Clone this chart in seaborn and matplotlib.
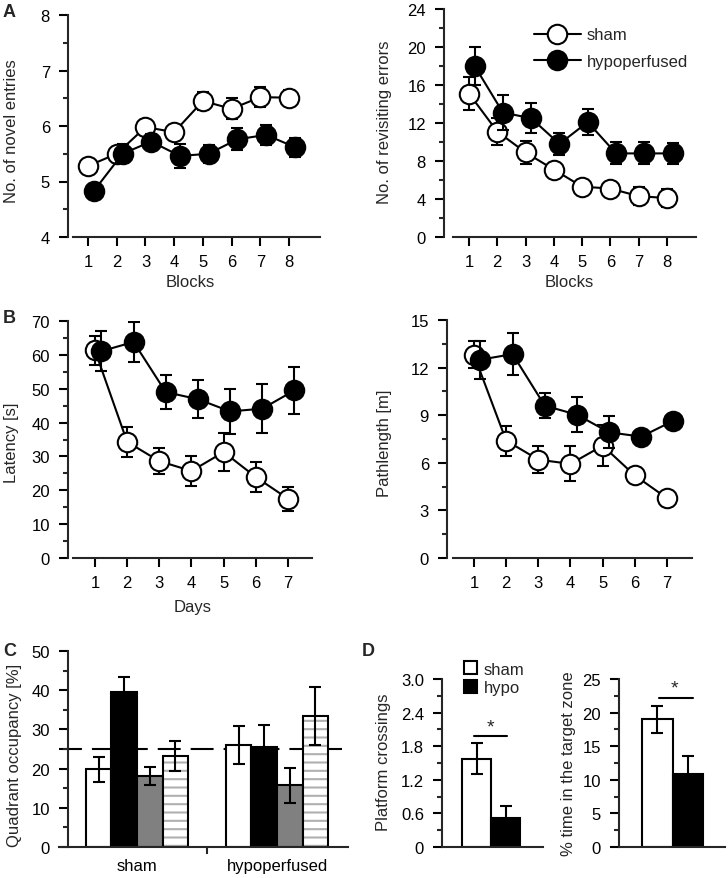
import matplotlib
matplotlib.use("Agg")
import matplotlib.pyplot as plt
from matplotlib.ticker import MultipleLocator, FuncFormatter
from matplotlib.lines import Line2D
from matplotlib.patches import Patch, Rectangle
import numpy as np
import pandas as pd
import seaborn as sns

# ---- data ----
blocks = [1, 2, 3, 4, 5, 6, 7, 8]
days = [1, 2, 3, 4, 5, 6, 7]

novel_sham = [5.28, 5.5, 5.98, 5.89, 6.45, 6.31, 6.52, 6.51]
novel_sham_err = [0.06, 0.12, 0.12, 0.1, 0.16, 0.19, 0.18, 0.14]
novel_hypo = [4.83, 5.5, 5.72, 5.46, 5.5, 5.76, 5.84, 5.62]
novel_hypo_err = [0.08, 0.17, 0.13, 0.22, 0.16, 0.2, 0.18, 0.17]

revisit_sham = [15.1, 11.1, 8.9, 7.1, 5.3, 5.1, 4.3, 4.1]
revisit_sham_err = [1.7, 1.4, 1.2, 0.5, 0.5, 0.5, 0.95, 0.95]
revisit_hypo = [18.0, 13.1, 12.5, 9.8, 12.1, 8.8, 8.8, 8.8]
revisit_hypo_err = [2.0, 1.85, 1.6, 1.15, 1.4, 1.15, 1.15, 1.1]

latency_sham = [61.3, 34.3, 28.6, 25.7, 31.3, 23.9, 17.5]
latency_sham_err = [4.3, 4.4, 3.9, 4.3, 5.6, 4.4, 3.6]
latency_hypo = [61.1, 63.8, 49.0, 46.9, 43.3, 44.1, 49.5]
latency_hypo_err = [6.0, 6.0, 5.0, 5.6, 6.7, 7.2, 6.9]

path_sham = [12.8, 7.4, 6.2, 5.93, 7.08, 5.2, 3.77]
path_sham_err = [0.85, 0.95, 0.85, 1.1, 1.3, 0.2, 0.15]
path_hypo = [12.5, 12.85, 9.6, 9.03, 7.92, 7.65, 8.65]
path_hypo_err = [1.2, 1.3, 0.8, 1.1, 1.0, 0.2, 0.2]

groups = ["sham", "hypoperfused"]
quadrants = ["Q1", "Q2", "Q3", "Q4"]
quad_sham = [19.8, 39.5, 18.2, 23.2]
quad_sham_err = [3.1, 3.8, 2.3, 3.8]
quad_hypo = [26.1, 25.6, 15.7, 33.4]
quad_hypo_err = [4.8, 5.6, 4.4, 7.5]
quad_colors = ["white", "black", "#808080", "white"]

d_groups = ["sham", "hypo"]
crossings = [1.58, 0.52]
crossings_err = [0.27, 0.21]
target_time = [19.0, 10.9]
target_time_err = [2.0, 2.7]

# ---- style ----
sns.set_style("ticks")
plt.rcParams["font.family"] = ["Liberation Sans", "DejaVu Sans"]
plt.rcParams["font.size"] = 12
plt.rcParams["axes.linewidth"] = 1.5
plt.rcParams["hatch.linewidth"] = 1.5

W, H = 728, 879
fig = plt.figure(figsize=(W / 100, H / 100), dpi=100)


def rect(x0, y0, x1, y1):
    return [x0 / W, 1 - y1 / H, (x1 - x0) / W, (y1 - y0) / H]


def style(ax, ylim, major, minor):
    ax.set_ylim(*ylim)
    ax.spines["top"].set_visible(False)
    ax.spines["right"].set_visible(False)
    ax.yaxis.set_major_locator(MultipleLocator(major))
    ax.yaxis.set_minor_locator(MultipleLocator(minor))
    ax.tick_params(which="major", length=6.5, width=1.5, labelsize=12,
                   direction="out", colors="black")
    ax.tick_params(axis="y", which="major", pad=6.5)
    ax.tick_params(axis="x", which="major", pad=5.5)
    ax.tick_params(which="minor", length=3.5, width=1.5, direction="out")
    ax.tick_params(axis="x", which="minor", bottom=False)


def line_panel(ax, x, sham, sham_err, hypo, hypo_err):
    xs = np.asarray(x, dtype=float)
    xh = xs + 0.2
    z = 2
    for xx, yy, ee, fc in [(xs, sham, sham_err, "white"), (xh, hypo, hypo_err, "black")]:
        ax.errorbar(xx, yy, yerr=ee, fmt="none", ecolor="black", elinewidth=1.5,
                    capsize=4.5, capthick=1.5, zorder=z)
        sns.lineplot(x=xx, y=yy, ax=ax, color="black", linewidth=1.5, marker="o",
                     markersize=14, markerfacecolor=fc, markeredgecolor="black",
                     markeredgewidth=1.5, errorbar=None, zorder=z + 1)
        z += 2
    ax.set_xticks(list(x))


# ---- A ----
axA1 = fig.add_axes(rect(68, 16, 320, 238))
line_panel(axA1, blocks, novel_sham, novel_sham_err, novel_hypo, novel_hypo_err)
style(axA1, (4, 8), 1, 0.5)
axA1.set_xlim(0.30, 9.08)
axA1.spines["bottom"].set_bounds(0.48, 9.08)
axA1.set_ylabel("No. of novel entries", fontsize=12)
axA1.set_xlabel("Blocks", fontsize=12)
axA1.yaxis.set_label_coords(-0.196, 0.482)
axA1.xaxis.set_label_coords(0.484, -0.167)

axA2 = fig.add_axes(rect(444, 10, 696, 238))
line_panel(axA2, blocks, revisit_sham, revisit_sham_err, revisit_hypo, revisit_hypo_err)
style(axA2, (0, 24), 4, 2)
axA2.set_xlim(0.116, 9.03)
axA2.spines["bottom"].set_bounds(0.434, 9.03)
axA2.set_ylabel("No. of revisiting errors", fontsize=12)
axA2.set_xlabel("Blocks", fontsize=12)
axA2.yaxis.set_label_coords(-0.206, 0.507)
axA2.xaxis.set_label_coords(0.496, -0.164)
leg_handles = [
    Line2D([], [], color="black", lw=1.5, marker="o", ms=14, mfc="white", mec="black", mew=1.5),
    Line2D([], [], color="black", lw=1.5, marker="o", ms=14, mfc="black", mec="black", mew=1.5),
]
axA2.legend(leg_handles, ["sham", "hypoperfused"], loc="upper left",
            bbox_to_anchor=(0.357, 0.919), frameon=False, handlelength=2.8,
            handletextpad=0.36, labelspacing=0.7, borderpad=0, borderaxespad=0,
            numpoints=1, fontsize=12)

# ---- B ----
axB1 = fig.add_axes(rect(68, 322, 312, 559))
line_panel(axB1, days, latency_sham, latency_sham_err, latency_hypo, latency_hypo_err)
style(axB1, (0, 70), 10, 5)
axB1.set_xlim(0.161, 7.746)
axB1.spines["bottom"].set_bounds(0.316, 7.746)
axB1.set_ylabel("Latency [s]", fontsize=12)
axB1.set_xlabel("Days", fontsize=12)
axB1.yaxis.set_label_coords(-0.2, 0.49)
axB1.xaxis.set_label_coords(0.512, -0.173)

axB2 = fig.add_axes(rect(447, 321, 692, 559))
line_panel(axB2, days, path_sham, path_sham_err, path_hypo, path_hypo_err)
style(axB2, (0, 15), 3, 1.5)
axB2.set_xlim(0.161, 7.777)
axB2.spines["bottom"].set_bounds(0.347, 7.777)
axB2.set_ylabel("Pathlength [m]", fontsize=12)
axB2.set_xlabel("")
axB2.yaxis.set_label_coords(-0.225, 0.487)

# ---- C ----
axC = fig.add_axes(rect(59, 652, 348, 848))
dfC = pd.DataFrame({
    "group": np.repeat(groups, len(quadrants)),
    "quadrant": quadrants * len(groups),
    "value": quad_sham + quad_hypo,
})
errC = {("sham", q): e for q, e in zip(quadrants, quad_sham_err)}
errC.update({("hypoperfused", q): e for q, e in zip(quadrants, quad_hypo_err)})
axC.axhline(25, xmin=0, xmax=0.979, color="black", lw=1.5, dashes=(11, 4.8), zorder=0.5)
sns.barplot(data=dfC, x="group", y="value", hue="quadrant", order=groups,
            hue_order=quadrants, palette=quad_colors, width=0.73, edgecolor="black",
            linewidth=1.5, errorbar=None, legend=False, ax=axC, zorder=1)
bar_conts = list(axC.containers)
for qi, cont in enumerate(bar_conts):
    for gi, bar in enumerate(cont):
        cx = bar.get_x() + bar.get_width() / 2
        axC.errorbar(cx, bar.get_height(), yerr=errC[(groups[gi], quadrants[qi])],
                     fmt="none", ecolor="black", elinewidth=1.5, capsize=4.5,
                     capthick=1.5, zorder=3)
        if qi == 3:
            bar.set_hatch("--")
            bar.set_edgecolor("#b0b0b0")
            bar.set_linewidth(0)
            axC.add_patch(Rectangle((bar.get_x(), 0), bar.get_width(), bar.get_height(),
                                    fill=False, edgecolor="black", lw=1.5, zorder=2))
style(axC, (0, 50), 10, 5)
axC.set_xlim(-0.557, 1.507)
axC.spines["left"].set_position(("data", -0.493))
axC.set_xticks([0, 1])
axC.set_xticklabels(groups)
axC.set_xticks([0.5], minor=True)
axC.tick_params(axis="x", which="major", length=0, pad=8)
axC.tick_params(axis="x", which="minor", bottom=True, length=5, width=1.5)
axC.set_xlabel("")
axC.set_ylabel("Quadrant occupancy [%]", fontsize=12)
axC.yaxis.set_label_coords(-0.128, 0.47)

# ---- D ----
axD1 = fig.add_axes(rect(442, 680, 543, 848))
sns.barplot(x=d_groups, y=crossings, hue=d_groups, palette=["white", "black"],
            width=1.0, edgecolor="black", linewidth=1.5, legend=False, ax=axD1)
for bar, e in zip(list(axD1.patches), crossings_err):
    axD1.errorbar(bar.get_x() + bar.get_width() / 2, bar.get_height(), yerr=e,
                  fmt="none", ecolor="black", elinewidth=1.5, capsize=4.5,
                  capthick=1.5, zorder=3)
style(axD1, (0, 3), 0.6, 0.3)
axD1.yaxis.set_major_formatter(FuncFormatter(lambda v, p: "0" if abs(v) < 1e-9 else f"{v:.1f}"))
axD1.set_xlim(-1.2, 2.28)
axD1.set_xticks([])
axD1.set_ylabel("Platform crossings", fontsize=12)
axD1.yaxis.set_label_coords(-0.5, 0.512)
axD1.plot([-0.1, 1.05], [1.98, 1.98], color="black", lw=1.5)
axD1.text(0.47, 2.0, "*", ha="center", va="bottom", fontsize=14)
d_handles = [Patch(facecolor="white", edgecolor="black", lw=1.5),
             Patch(facecolor="black", edgecolor="black", lw=1.5)]
axD1.legend(d_handles, d_groups, loc="upper left", bbox_to_anchor=(0.218, 1.105),
            frameon=False, handlelength=0.8, handleheight=0.8, handletextpad=0.4,
            labelspacing=0.2, borderpad=0, borderaxespad=0, fontsize=12)

axD2 = fig.add_axes(rect(619, 680, 725, 848))
sns.barplot(x=d_groups, y=target_time, hue=d_groups, palette=["white", "black"],
            width=1.0, edgecolor="black", linewidth=1.5, legend=False, ax=axD2)
for bar, e in zip(list(axD2.patches), target_time_err):
    axD2.errorbar(bar.get_x() + bar.get_width() / 2, bar.get_height(), yerr=e,
                  fmt="none", ecolor="black", elinewidth=1.5, capsize=4.5,
                  capthick=1.5, zorder=3)
style(axD2, (0, 25), 5, 2.5)
axD2.set_xlim(-1.26, 2.21)
axD2.set_xticks([])
axD2.set_ylabel("% time in the target zone", fontsize=12)
axD2.yaxis.set_label_coords(-0.41, 0.5)
axD2.plot([0.05, 1.16], [22.2, 22.2], color="black", lw=1.5)
axD2.text(0.55, 22.4, "*", ha="center", va="bottom", fontsize=14)

# panel letters
for letter, px, py in [("A", 3, 4), ("B", 3, 310), ("C", 3, 643), ("D", 362, 643)]:
    fig.text(px / W, 1 - py / H, letter, fontsize=13, fontweight="bold",
             ha="left", va="top")

fig.savefig("out.png", dpi=100)
